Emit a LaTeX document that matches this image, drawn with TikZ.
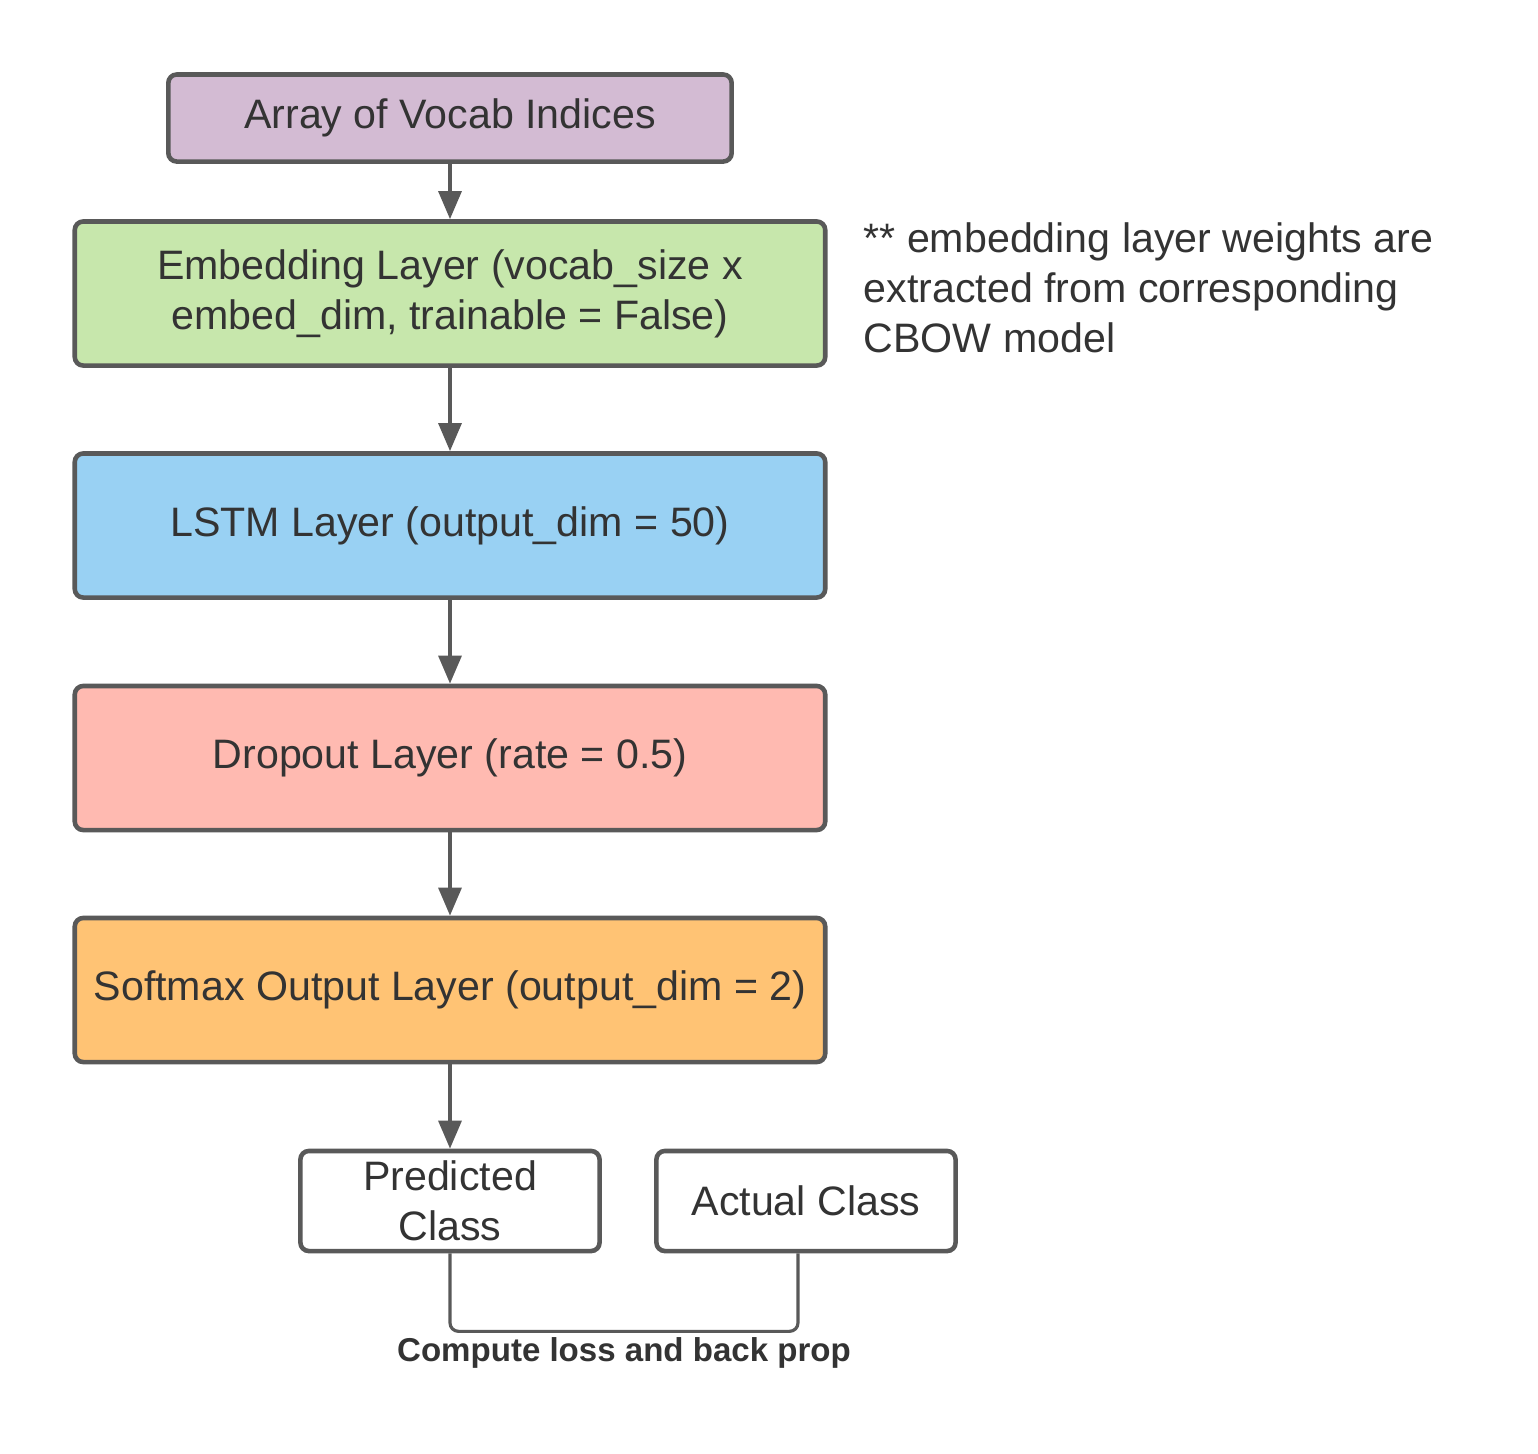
\documentclass[tikz,border=0pt]{standalone}
\usepackage{fontspec}
\setmainfont{Liberation Sans}
\usetikzlibrary{arrows.meta}
\definecolor{edgegray}{HTML}{595959}
\definecolor{textgray}{HTML}{333333}
\definecolor{vocabpurple}{HTML}{D3BBD3}
\definecolor{embedgreen}{HTML}{C7E7AC}
\definecolor{lstmblue}{HTML}{99D1F3}
\definecolor{droppink}{HTML}{FFBAB1}
\definecolor{softorange}{HTML}{FFC374}

\begin{document}
\begin{tikzpicture}[x=0.01cm, y=-0.01cm,
		every node/.style={text=textgray, font=\fontsize{11.7}{14.2}\selectfont},
		layer/.style={draw=edgegray, line width=1.3pt, rounded corners=2.4pt, align=center, inner sep=0pt, minimum width=7.5cm, minimum height=1.44cm},
		classbox/.style={layer, fill=white, minimum width=2.99cm, minimum height=1cm},
		flow/.style={draw=edgegray, line width=1.1pt, -{Triangle[length=8pt, width=6.5pt]}},
		link/.style={draw=edgegray, line width=0.9pt, rounded corners=2.4pt}]
				\useasboundingbox (0, 0) rectangle (1538, 1453);
				
				\node[layer, fill=vocabpurple, minimum width=5.63cm, minimum height=0.87cm] (vocab) at (450, 118) {Array of Vocab Indices};
				\node[layer, fill=embedgreen] (embed) at (450, 293.5) {Embedding Layer (vocab\_size x\\embed\_dim, trainable = False)};
				\node[layer, fill=lstmblue] (lstm) at (450, 525.5) {LSTM Layer (output\_dim = 50)};
				\node[layer, fill=droppink] (drop) at (450, 758) {Dropout Layer (rate = 0.5)};
				\node[layer, fill=softorange] (soft) at (450, 990) {Softmax Output Layer (output\_dim = 2)};
				
				\node[classbox] (pred) at (450, 1201) {Predicted\\Class};
				\node[classbox] (act) at (806, 1201) {Actual Class};
				
				\node[anchor=north west, align=left, inner sep=0pt] (note) at (863, 222) {** embedding layer weights are\\extracted from corresponding\\CBOW model};
				
				\draw[flow] (vocab) -- (embed);
				\draw[flow] (embed) -- (lstm);
				\draw[flow] (lstm) -- (drop);
				\draw[flow] (drop) -- (soft);
				\draw[flow] (soft) -- (pred);
				
				\coordinate (actfoot) at ([xshift=-0.08cm]act.south);
				\draw[link] (pred.south) -- ++(0, 78) -| (actfoot);
				\node[font=\bfseries\fontsize{9.4}{11}\selectfont] (loss) at (624, 1353) {Compute loss and back prop};
			\end{tikzpicture}
\end{document}
